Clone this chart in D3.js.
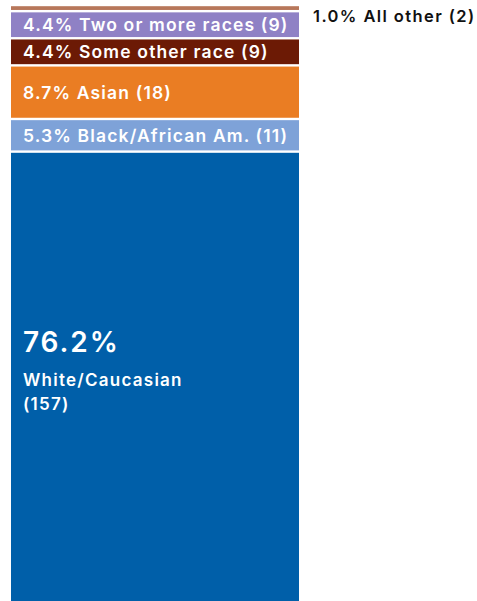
<!DOCTYPE html>
<html>
<head>
<meta charset="utf-8">
<script src="https://cdn.jsdelivr.net/npm/d3@7"></script>
<style>
  html, body { margin: 0; padding: 0; background: #ffffff; }
  svg { display: block; }
  text { font-family: Inter, "Open Sans", sans-serif; }
</style>
</head>
<body>
<svg id="chart" width="477" height="601"></svg>
<script>
// Race / ethnicity breakdown, stacked from the bottom up
const categories = ["White/Caucasian", "Black/African Am.", "Asian", "Some other race", "Two or more races", "All other"];
const percents   = [76.2, 5.3, 8.7, 4.4, 4.4, 1.0];
const counts     = [157, 11, 18, 9, 9, 2];
const colors     = ["#005fa9", "#7ea2d8", "#ea7d23", "#6c1a05", "#8f81c5", "#b7775a"];

const svg = d3.select("#chart");

const x = d3.scaleLinear().domain([0, 1]).range([11, 299]);
const y = d3.scaleLinear().domain([0, 100]).range([621, 5]);
const gap = 2.4;

// cumulative stack
let acc = 0;
const rows = categories.map((c, i) => {
  const r = { cat: c, pct: percents[i], n: counts[i], color: colors[i], y0: acc, y1: acc + percents[i] };
  acc += percents[i];
  return r;
});

const g = svg.append("g");

g.selectAll("rect.seg")
  .data(rows)
  .join("rect")
  .attr("class", "seg")
  .attr("x", x(0))
  .attr("width", x(1) - x(0))
  .attr("y", d => y(d.y1) + gap / 2)
  .attr("height", d => Math.max(1.5, y(d.y0) - y(d.y1) - gap))
  .attr("fill", d => d.color);

// inline labels for the thin middle segments
const mid = rows.filter(d => d.cat !== "White/Caucasian" && d.cat !== "All other");
g.selectAll("text.seg-label")
  .data(mid)
  .join("text")
  .attr("class", "seg-label")
  .attr("x", 23)
  .attr("y", d => (y(d.y0) + y(d.y1)) / 2 + 6.5)
  .attr("fill", "#ffffff")
  .attr("font-size", 17.5)
  .attr("font-weight", 600)
  .attr("letter-spacing", 1.15)
  .text(d => `${d.pct.toFixed(1)}% ${d.cat} (${d.n})`);

// the large segment gets a stacked label
const big = rows[0];
const bigLabel = g.append("text").attr("fill", "#ffffff").attr("x", 23).attr("font-weight", 600);
bigLabel.append("tspan").attr("x", 23).attr("y", 352)
  .attr("font-size", 28).attr("letter-spacing", 1.9)
  .text(`${big.pct.toFixed(1)}%`);
bigLabel.append("tspan").attr("x", 23).attr("y", 386)
  .attr("font-size", 17).attr("letter-spacing", 1.25)
  .text(big.cat);
bigLabel.append("tspan").attr("x", 23).attr("y", 410)
  .attr("font-size", 17).attr("letter-spacing", 1.25)
  .text(`(${big.n})`);

// smallest segment labelled outside the bar
const tiny = rows[rows.length - 1];
g.append("text")
  .attr("x", 313)
  .attr("y", 22)
  .attr("fill", "#111111")
  .attr("font-size", 16.5)
  .attr("font-weight", 600)
  .attr("letter-spacing", 1.4)
  .text(`${tiny.pct.toFixed(1)}% ${tiny.cat} (${tiny.n})`);
</script>
</body>
</html>
